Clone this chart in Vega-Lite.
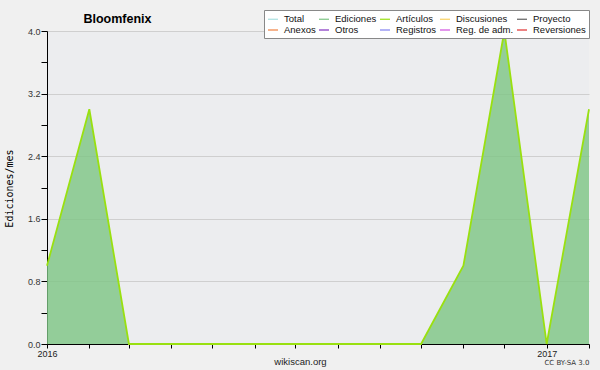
{
  "$schema": "https://vega.github.io/schema/vega-lite/v6.json",
  "width": 542,
  "height": 313,
  "autosize": {"type": "none"},
  "padding": {"left": 47, "top": 31, "right": 11, "bottom": 26},
  "background": "#f0f0f0",
  "config": {"view": {"fill": "#ecedef", "stroke": null}, "font": "Liberation Sans"},
  "data": {"values": [
    {"mes": "2016-01-01", "ediciones": 1},
    {"mes": "2016-02-01", "ediciones": 3},
    {"mes": "2016-03-01", "ediciones": 0},
    {"mes": "2016-04-01", "ediciones": 0},
    {"mes": "2016-05-01", "ediciones": 0},
    {"mes": "2016-06-01", "ediciones": 0},
    {"mes": "2016-07-01", "ediciones": 0},
    {"mes": "2016-08-01", "ediciones": 0},
    {"mes": "2016-09-01", "ediciones": 0},
    {"mes": "2016-10-01", "ediciones": 0},
    {"mes": "2016-11-01", "ediciones": 1},
    {"mes": "2016-12-01", "ediciones": 4},
    {"mes": "2017-01-01", "ediciones": 0},
    {"mes": "2017-02-01", "ediciones": 3}
  ]},
  "layer": [
    {
      "mark": {"type": "area", "fillOpacity": 0.8, "interpolate": "linear"},
      "encoding": {
        "x": {
          "field": "mes", "type": "temporal",
          "scale": {"type": "utc", "nice": false, "domain": [{"year": 2016, "month": 1, "date": 1, "utc": true}, {"year": 2017, "month": 2, "date": 1, "utc": true}]},
          "axis": {
            "tickCount": {"interval": "month", "step": 1},
            "labelExpr": "utcmonth(datum.value) == 0 ? utcFormat(datum.value, '%Y') : ''",
            "labelOverlap": false, "labelFlush": false,
            "labelFont": "Liberation Sans", "labelFontSize": 9, "labelColor": "#222", "labelPadding": 1,
            "tickSize": 4, "tickColor": "#000", "domainColor": "#000", "grid": false,
            "title": "wikiscan.org", "titleX": 253, "titleY": 20, "titleAlign": "center", "titleBaseline": "alphabetic",
            "titleFont": "Liberation Sans", "titleFontSize": 9.5, "titleFontWeight": "normal", "titleColor": "#222"
          }
        },
        "y": {
          "field": "ediciones", "type": "quantitative",
          "scale": {"domain": [0, 4], "nice": false},
          "axis": {
            "values": [0, 0.4, 0.8, 1.2, 1.6, 2.0, 2.4, 2.8, 3.2, 3.6, 4.0],
            "labelExpr": "round(datum.value * 10) % 8 == 0 ? format(datum.value, '.1f') : ''",
            "labelFont": "Liberation Sans", "labelFontSize": 9, "labelColor": "#333", "labelPadding": 1,
            "tickSize": 6, "tickColor": "#000", "domainColor": "#000",
            "grid": true, "gridColor": "#cfcfcf",
            "gridOpacity": {"condition": {"test": "round(datum.value * 10) % 8 == 0", "value": 1}, "value": 0},
            "title": "Ediciones/mes", "titleFont": "DejaVu Sans Mono", "titleFontSize": 10, "titleFontWeight": "normal", "titleColor": "#000",
            "titleAngle": -90, "titleX": -35, "titleY": 157, "titleAlign": "center", "titleBaseline": "alphabetic"
          }
        },
        "color": {
          "datum": "Ediciones", "type": "nominal",
          "scale": {
            "domain": ["Total", "Ediciones", "Artículos", "Discusiones", "Proyecto", "Anexos", "Otros", "Registros", "Reg. de adm.", "Reversiones"],
            "range": ["#a8e0e0", "#7dc483", "#99e010", "#f8d060", "#606060", "#f08040", "#8030c0", "#8080f0", "#d050e0", "#e03030"]
          },
          "legend": {
            "orient": "none", "legendX": 217, "legendY": -21, "columns": 5, "direction": "horizontal", "title": null,
            "symbolType": "stroke", "symbolStrokeWidth": 1.2, "symbolSize": 100,
            "labelFontSize": 9.5, "labelFont": "Liberation Sans", "labelColor": "#111", "labelOffset": 5,
            "fillColor": "white", "strokeColor": "#888", "padding": 3, "rowPadding": 0, "columnPadding": 0, "cornerRadius": 0
          }
        }
      }
    },
    {
      "mark": {"type": "line", "strokeWidth": 1.8, "interpolate": "linear"},
      "encoding": {
        "x": {
          "field": "mes", "type": "temporal",
          "axis": {
            "orient": "top", "domain": false, "ticks": false, "labels": false, "grid": false,
            "title": "Bloomfenix", "titleX": 70, "titleY": -9, "titleAlign": "center", "titleBaseline": "alphabetic",
            "titleFont": "Liberation Sans", "titleFontSize": 12.5, "titleFontWeight": "bold", "titleColor": "#000"
          }
        },
        "y": {
          "field": "ediciones", "type": "quantitative",
          "axis": {
            "orient": "right", "domain": false, "ticks": false, "labels": false, "grid": false,
            "title": "CC BY-SA 3.0", "titleAngle": 0, "titleX": 0, "titleY": 333, "titleAlign": "right", "titleBaseline": "alphabetic",
            "titleFont": "DejaVu Sans", "titleFontSize": 7, "titleFontWeight": "normal", "titleColor": "#333"
          }
        },
        "color": {"datum": "Artículos", "type": "nominal"}
      }
    }
  ],
  "resolve": {"axis": {"x": "independent", "y": "independent"}}
}
